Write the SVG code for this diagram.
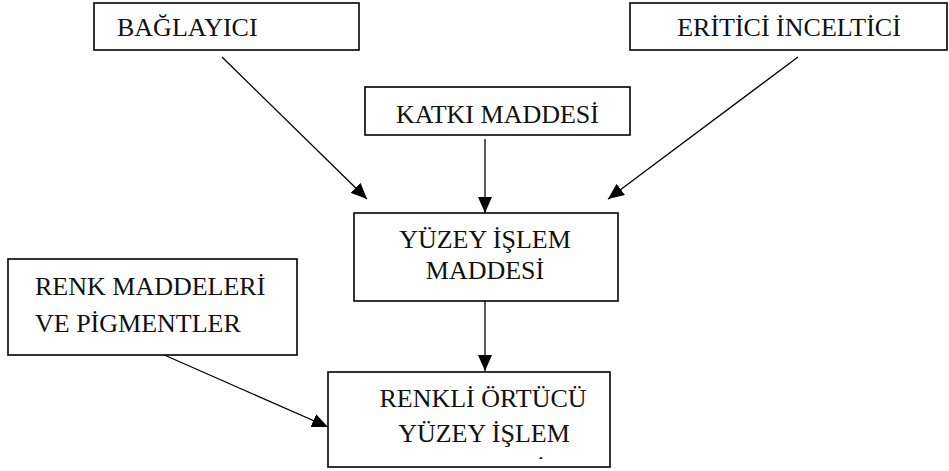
<svg xmlns="http://www.w3.org/2000/svg" width="949" height="471" viewBox="0 0 949 471">
<style>
.box{fill:#fff;stroke:#000;stroke-width:1.6}
.t{font-family:"Liberation Serif","Times New Roman",serif;font-size:26px;fill:#111}
.c{text-anchor:middle}
.ln{stroke:#000;stroke-width:1.3;fill:none;marker-end:url(#ah)}
</style>
<defs>
<marker id="ah" markerUnits="userSpaceOnUse" markerWidth="16" markerHeight="14" viewBox="0 0 16 14" refX="16" refY="7" orient="auto">
<path d="M0,0 L16,7 L0,14 Z" fill="#000"/>
</marker>
<clipPath id="clipR"><rect x="328" y="372" width="282" height="87"/></clipPath>
</defs>
<rect width="949" height="471" fill="#fff"/>
<g id="connectors">
<line class="ln" x1="222" y1="57" x2="367" y2="199"/>
<line class="ln" x1="485" y1="139" x2="485" y2="213"/>
<line class="ln" x1="798" y1="57" x2="608" y2="199"/>
<line class="ln" x1="485" y1="301" x2="485" y2="371"/>
<line class="ln" x1="162" y1="354" x2="328" y2="427"/>
</g>
<g id="baglayici">
<rect class="box" x="94" y="3" width="265" height="47"/>
<text class="t" x="117" y="36">BAĞLAYICI</text>
</g>
<g id="eritici">
<rect class="box" x="630" y="3" width="317" height="47"/>
<text class="t c" x="789" y="36">ERİTİCİ İNCELTİCİ</text>
</g>
<g id="katki">
<rect class="box" x="365" y="87" width="265" height="48"/>
<text class="t c" x="497.5" y="123">KATKI MADDESİ</text>
</g>
<g id="yuzey">
<rect class="box" x="354" y="213" width="264" height="88"/>
<text class="t c" x="485" y="248">YÜZEY İŞLEM</text>
<text class="t c" x="485" y="279">MADDESİ</text>
</g>
<g id="renk">
<rect class="box" x="8" y="259" width="289" height="96"/>
<text class="t" x="35" y="295">RENK MADDELERİ</text>
<text class="t" x="35" y="332">VE PİGMENTLER</text>
</g>
<g id="renkli">
<rect class="box" x="328" y="372" width="282" height="95"/>
<text class="t c" x="483" y="407">RENKLİ ÖRTÜCÜ</text>
<text class="t c" x="484" y="442">YÜZEY İŞLEM</text>
<text class="t c" x="486" y="478" clip-path="url(#clipR)">MADDESİ</text>
</g>
</svg>
